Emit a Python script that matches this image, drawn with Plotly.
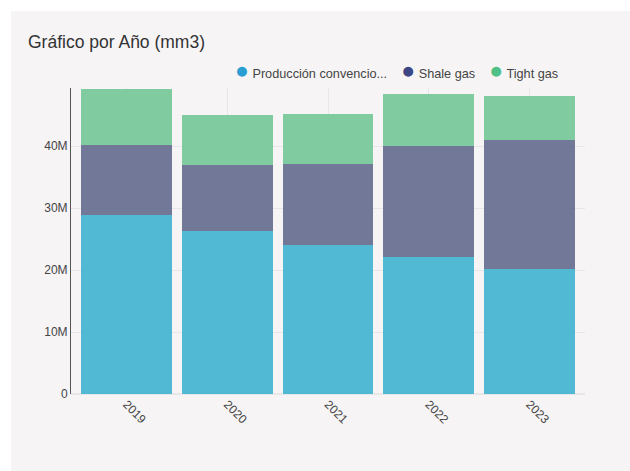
import plotly.graph_objects as go

# Producción anual por tipo de recurso (m3)
years = ["2019", "2020", "2021", "2022", "2023"]
convencional = [28.95e6, 26.26e6, 24.11e6, 22.18e6, 20.24e6]
shale = [11.29e6, 10.76e6, 13.07e6, 17.90e6, 20.81e6]
tight = [9.03e6, 8.06e6, 8.06e6, 8.34e6, 6.98e6]

series_names = ["Producción convencional", "Shale gas", "Tight gas"]
legend_labels = ["Producción convencio...", "Shale gas", "Tight gas"]
bar_colors = ["#40b3d0", "#636a8e", "#73c797"]
dot_colors = ["#2a9ed3", "#3d4785", "#4fc186"]

BG = "#f6f4f5"
FONT = "Liberation Sans, Arial, sans-serif"

fig = go.Figure()
for name, vals, col in zip(series_names, [convencional, shale, tight], bar_colors):
    fig.add_trace(go.Bar(
        x=years, y=vals, name=name,
        marker=dict(color=col, opacity=0.9, line=dict(width=0)),
        showlegend=False,
    ))

# legend row: coloured dot + label for each series
sep = "&nbsp;" * 4
legend_text = sep.join(
    f"<span style='color:{c};font-size:23px'>●</span> {lbl}"
    for c, lbl in zip(dot_colors, legend_labels)
)

# plot-area geometry in pixels (used to place the card background)
W, H = 630, 471
L, R, T, B = 71, 45, 88, 77
pw, ph = W - L - R, H - T - B

def px_x(px):
    return (px - L) / pw

def px_y(py):
    return (H - B - py) / ph

fig.update_layout(
    width=W, height=H,
    margin=dict(l=L, r=R, t=T, b=B, pad=0),
    paper_bgcolor="white",
    plot_bgcolor=BG,
    barmode="stack",
    bargap=0.1,
    font=dict(family=FONT, size=12, color="#444"),
    title=dict(
        text="Gráfico por Año (mm3)",
        x=28 / W, xanchor="left",
        y=1 - 42 / H, yanchor="middle",
        font=dict(family=FONT, size=17.5, color="#333"),
    ),
    shapes=[dict(
        type="rect", xref="paper", yref="paper", layer="below",
        x0=px_x(11), x1=px_x(W + 5), y0=px_y(H + 5), y1=px_y(11),
        fillcolor=BG, line=dict(width=0),
    )],
    annotations=[dict(
        text=legend_text, xref="paper", yref="paper",
        x=px_x(560), xanchor="right", y=px_y(70), yanchor="middle",
        showarrow=False, font=dict(family=FONT, size=12.7, color="#444"),
    )],
    xaxis=dict(
        type="category", range=[-0.55, 4.55],
        showgrid=True, gridcolor="#e8e6e8", gridwidth=1,
        tickangle=45, ticks="", showline=False, zeroline=False,
        tickfont=dict(size=12, color="#444"),
    ),
    yaxis=dict(
        range=[0, 49.4e6], tickvals=[0, 10e6, 20e6, 30e6, 40e6],
        tickformat="~s", showgrid=True, gridcolor="#e8e6e8", gridwidth=1,
        showline=True, linecolor="#555", linewidth=1,
        zeroline=True, zerolinecolor="#e8e6e8", ticks="",
        tickfont=dict(size=12, color="#444"),
    ),
)

fig.write_html("out.html")
